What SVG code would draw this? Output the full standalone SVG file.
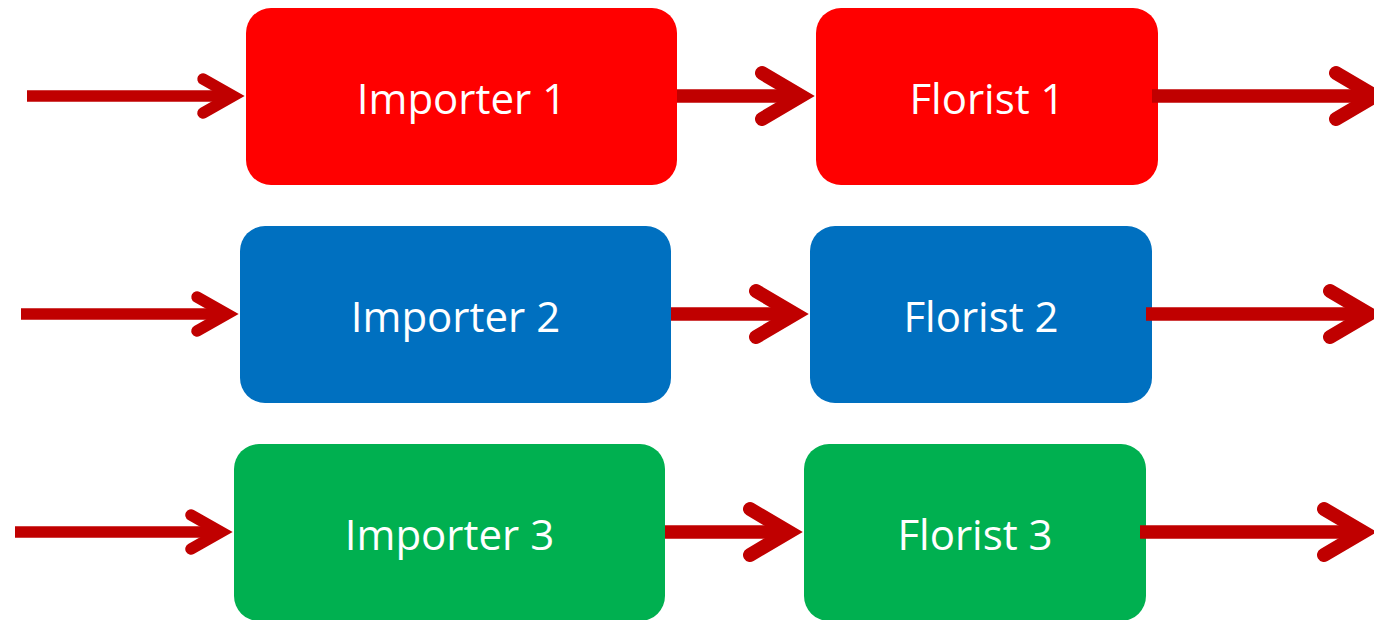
<svg xmlns="http://www.w3.org/2000/svg" width="1374" height="620" viewBox="0 0 1374 620">
  <style>
    .box { stroke: none; }
    .red { fill: #FF0000; }
    .blue { fill: #0070C0; }
    .green { fill: #00B050; }
    .label { font-family: "Open Sans", "Liberation Sans", sans-serif; font-size: 42px; fill: #FFFFFF; text-anchor: middle; }
    .shaft { stroke: #C00000; fill: none; stroke-linecap: butt; }
    .head { stroke: #C00000; fill: none; stroke-linecap: round; stroke-linejoin: miter; stroke-miterlimit: 10; }
    .in { stroke-width: 11.5; }
    .mid { stroke-width: 13.5; }
    .out { stroke-width: 13.5; }
    .big { stroke-width: 14; }
  </style>
  <rect width="1374" height="620" fill="#FFFFFF"/>

  <!-- Row 1 -->
  <g id="importer1">
    <rect class="box red" x="246" y="8" width="431" height="177" rx="25"/>
    <text class="label" x="461.5" y="113.5">Importer 1</text>
  </g>
  <g id="florist1">
    <rect class="box red" x="816" y="8" width="342" height="177" rx="25"/>
    <text class="label" x="987" y="113.5">Florist 1</text>
  </g>

  <!-- Row 2 -->
  <g id="importer2">
    <rect class="box blue" x="240" y="226" width="431" height="177" rx="25"/>
    <text class="label" x="455.5" y="331.5">Importer 2</text>
  </g>
  <g id="florist2">
    <rect class="box blue" x="810" y="226" width="342" height="177" rx="25"/>
    <text class="label" x="981" y="331.5">Florist 2</text>
  </g>

  <!-- Row 3 -->
  <g id="importer3">
    <rect class="box green" x="234" y="444" width="431" height="177" rx="25"/>
    <text class="label" x="449.5" y="549.5">Importer 3</text>
  </g>
  <g id="florist3">
    <rect class="box green" x="804" y="444" width="342" height="177" rx="25"/>
    <text class="label" x="975" y="549.5">Florist 3</text>
  </g>

  <!-- Connectors: shaft + open chevron head -->
  <g id="connectors">
    <!-- row 1 -->
    <line class="shaft in" x1="27" y1="96" x2="233" y2="96"/>
    <polyline class="head in" points="203,79 233,96 203,113"/>
    <line class="shaft mid" x1="677" y1="96" x2="801" y2="96"/>
    <polyline class="head big" points="762,73 801,96 762,119"/>
    <line class="shaft out" x1="1152" y1="96" x2="1375" y2="96"/>
    <polyline class="head big" points="1336,73 1375,96 1336,119"/>

    <!-- row 2 -->
    <line class="shaft in" x1="21" y1="314" x2="227" y2="314"/>
    <polyline class="head in" points="197,297 227,314 197,331"/>
    <line class="shaft mid" x1="671" y1="314" x2="795" y2="314"/>
    <polyline class="head big" points="756,291 795,314 756,337"/>
    <line class="shaft out" x1="1146" y1="314" x2="1369" y2="314"/>
    <polyline class="head big" points="1330,291 1369,314 1330,337"/>

    <!-- row 3 -->
    <line class="shaft in" x1="15" y1="532" x2="221" y2="532"/>
    <polyline class="head in" points="191,515 221,532 191,549"/>
    <line class="shaft mid" x1="665" y1="532" x2="789" y2="532"/>
    <polyline class="head big" points="750,509 789,532 750,555"/>
    <line class="shaft out" x1="1140" y1="532" x2="1363" y2="532"/>
    <polyline class="head big" points="1324,509 1363,532 1324,555"/>
  </g>
</svg>
